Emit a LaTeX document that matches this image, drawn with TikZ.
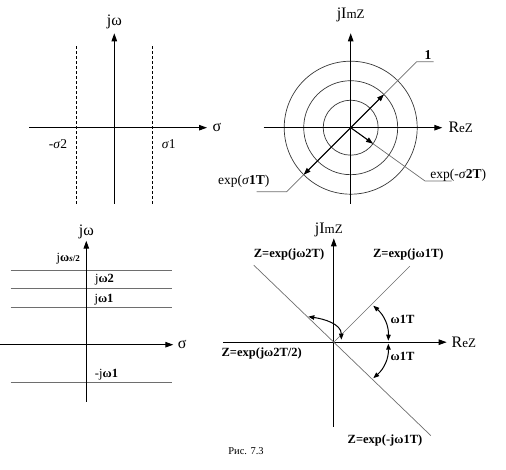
\documentclass[tikz,border=0pt]{standalone}
\usepackage{fontspec}
\setmainfont{Liberation Serif}
\usetikzlibrary{arrows.meta}
\definecolor{linegray}{RGB}{110,110,110}
\definecolor{circgray}{RGB}{55,55,55}
\tikzset{
  axis/.style={-{Triangle[length=8pt,width=5.5pt]}, line width=1pt, color=black},
  bound/.style={dash pattern=on 3pt off 2pt, line width=0.7pt},
  ray/.style={line width=0.7pt, color=linegray},
  circ/.style={line width=0.7pt, color=circgray},
  vec/.style={-{Triangle[length=7pt,width=5pt]}, line width=1pt},
  angarc/.style={{Triangle[length=6pt,width=4.5pt]}-{Triangle[length=6pt,width=4.5pt]}, line width=1pt},
  axlabel/.style={font=\fontsize{16}{16}\selectfont, inner sep=0pt},
  zlabel/.style={font=\fontsize{13.5}{13.5}\selectfont, inner sep=0pt},
  lbl/.style={font=\fontsize{12.5}{12.5}\selectfont\bfseries, inner sep=0pt}
}

\begin{document}
\begin{tikzpicture}[x=1pt,y=1pt]
  \useasboundingbox (0,0) rectangle (506,470);

  % s-plane, stability strip
  \begin{scope}[shift={(114.3,342.3)}]
    \draw[axis] (0,-76.3) -- (0,94.4);
    \draw[axis] (-85.3,0) -- (92.7,0);
    \draw[bound] (-37.6,-76.3) -- (-37.6,81.7);
    \draw[bound] (38.4,-76.3) -- (38.4,81.7);
    \node[axlabel] (jwa) at (0,106) {jω};
    \node[axlabel] (siga) at (102.7,0) {σ};
    \node[zlabel] (msig2) at (-56.3,-16.3) {-\textit{σ}2};
    \node[zlabel] (sig1) at (54.4,-16.3) {\textit{σ}1};
  \end{scope}

  % z-plane, circles
  \begin{scope}[shift={(350.7,342.3)}]
    \draw[circ] (0,0) circle (27.5);
    \draw[circ] (0,0) circle (47);
    \draw[circ] (0,0) circle (66.5);
    \draw[axis] (0,-76.3) -- (0,94.4);
    \draw[axis] (-87,0) -- (91.6,0);
    \coordinate (zc) at (0,0);
    \draw[ray] (-94,-64) -- (-64,-64) -- (66,66) -- (83,66);
    \draw[ray] (zc) -- (74.3,-53.3) -- (101,-53.3);
    \draw[vec] (zc) -- (45:47);
    \draw[vec] (zc) -- (225:66.5);
    \draw[vec] (zc) -- (-35.6:27.5);
    \node[axlabel] (imz) at (0,112.7) {jI{\fontsize{13}{13}\selectfont mZ}};
    \node[axlabel] (rez) at (110,0) {R{\fontsize{13}{13}\selectfont eZ}};
    \node[zlabel, font=\fontsize{13.5}{13.5}\selectfont\bfseries] (one) at (77.3,73) {1};
    \node[zlabel] (esig1) at (-106.9,-54) {exp(\textit{σ}\textbf{1T})};
    \node[zlabel] (esig2) at (107.6,-47.3) {exp(-\textit{σ}\textbf{2T})};
  \end{scope}

  % s-plane, frequency lines
  \begin{scope}[shift={(86.3,125.3)}]
    \foreach \yy in {74.7,56,37,-38}
      \draw[ray] (-75.6,\yy) -- (85.4,\yy);
    \draw[axis] (0,-57) -- (0,104);
    \draw[axis] (-86.3,0) -- (87,0);
    \node[axlabel] (jwb) at (0,113) {jω};
    \node[axlabel] (sigb) at (96,0) {σ};
    \node[lbl] (ws2) at (-18,85.7) {{\mdseries j}ω{\fontsize{9}{9}\selectfont\textit{s}/2}};
    \node[lbl] (w2) at (18.2,64.7) {{\mdseries j}ω2};
    \node[lbl] (w1) at (17.7,45.4) {{\mdseries j}ω1};
    \node[lbl] (mw1) at (20.2,-29.6) {{\mdseries -j}ω1};
  \end{scope}

  % z-plane, rays
  \begin{scope}[shift={(333.8,127.8)}]
    \draw[axis] (0,-84.5) -- (0,103.9);
    \draw[axis] (-110.8,0) -- (112.9,0);
    \coordinate (o) at (0,0);
    \draw[ray] (o) -- (76,76);
    \draw[ray] (-80,77) -- (97,-93.4);
    \draw[angarc] (39.5,36.5) to[bend left=25] (54.5,1.5);
    \draw[angarc] (54.5,-1.5) to[bend left=25] (39.5,-36);
    \draw[angarc] (-25.5,25.5) to[out=-8,in=90] (7.5,2.5);
    \node[axlabel] (imz2) at (-5,112.2) {jI{\fontsize{13}{13}\selectfont mZ}};
    \node[axlabel] (rez2) at (130,0) {R{\fontsize{13}{13}\selectfont eZ}};
    \node[lbl] (zw2) at (-44.8,87.2) {Z=exp(jω2T)};
    \node[lbl] (zw1) at (74.5,87.2) {Z=exp(jω1T)};
    \node[lbl] (a1) at (68.7,22.9) {ω1T};
    \node[lbl] (a2) at (68.7,-14.5) {ω1T};
    \node[lbl] (zhalf) at (-72.1,-11.1) {Z=exp(jω2T/2)};
    \node[lbl] (zmw1) at (51.2,-97.8) {Z=exp(-jω1T)};
  \end{scope}

  \node[font=\fontsize{10.5}{10.5}\selectfont] (cap) at (246,18.5) {Рис. 7.3};
\end{tikzpicture}
\end{document}
